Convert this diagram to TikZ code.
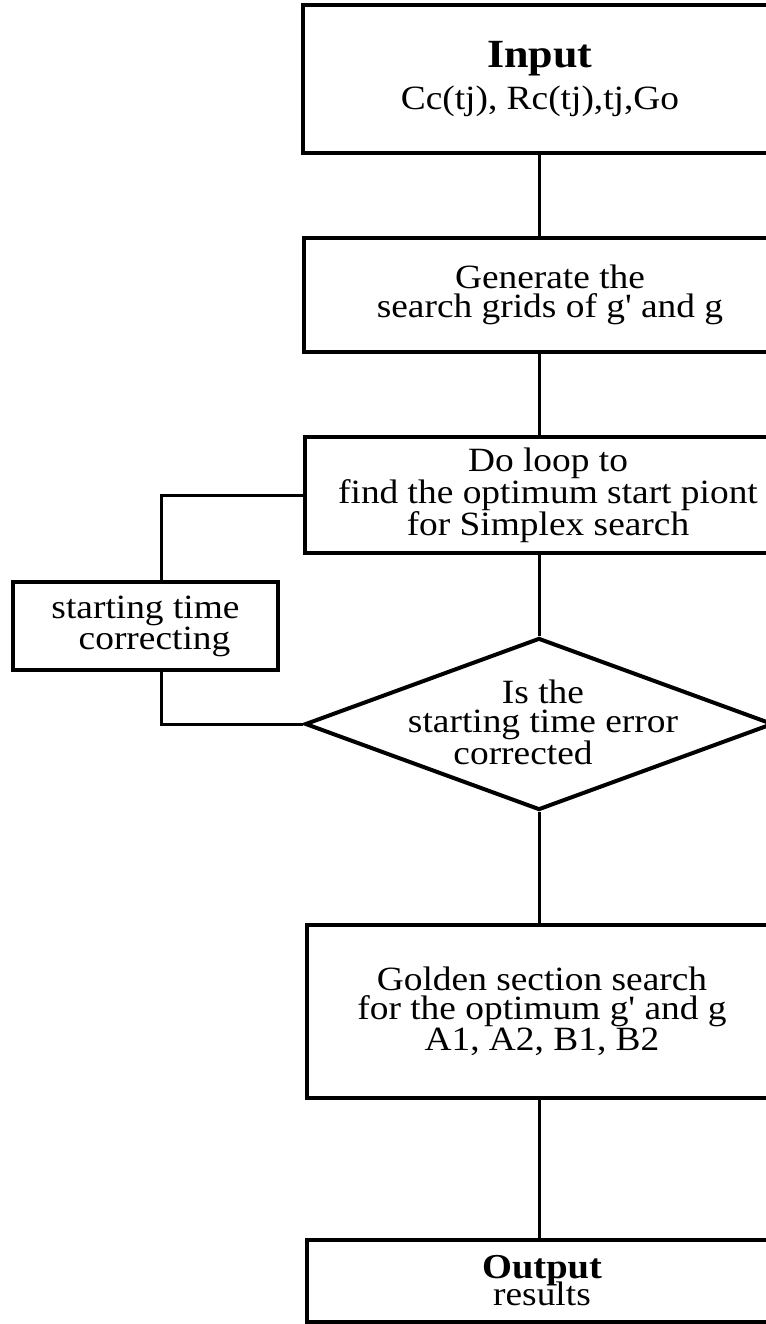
\documentclass[tikz,border=0pt]{standalone}
\usepackage{fontspec}
\setmainfont{Liberation Serif}[FakeStretch = 1.1, Ligatures = TeXOff]
\usetikzlibrary{shapes.geometric}

\begin{document}
\begin{tikzpicture}[x = 1pt, y = -1pt,
    stepbox/.style = {draw, line width = 3.5pt, rectangle, align = center, inner sep = 0pt, font = \fontsize{34}{29}\selectfont},
    decision/.style = {draw, line width = 4pt, diamond, inner sep = 0pt},
    link/.style = {line width = 3pt}]
    \useasboundingbox (0, 0) rectangle (765, 1324);

    % Nodes
    \node [stepbox, minimum width = 474pt, minimum height = 148pt] (input) at (540, 79)
        {{\bfseries\fontsize{40}{40}\selectfont Input}\\[8pt] Cc(tj), Rc(tj),tj,Go};
    \node [stepbox, minimum width = 492pt, minimum height = 114pt] (generate) at (550, 295)
        {Generate the\\ search grids of g' and g};
    \node [stepbox, minimum width = 486pt, minimum height = 116pt] (doloop) at (548, 495)
        {Do loop to\\ find the optimum start piont\\ for Simplex search};
    \node [stepbox, minimum width = 265pt, minimum height = 88pt, font = \fontsize{34}{26}\selectfont] (correct) at (145.5, 626)
        {starting time\\ \hspace*{18pt}correcting};
    \node [decision, minimum width = 468pt, minimum height = 172pt] (decide) at (539, 724) {};
    \node [align = center, font = \fontsize{34}{29}\selectfont] (decidetext) at (543, 722)
        {Is the\\ starting time error\\ corrected\hspace*{40pt}};
    \node [stepbox, minimum width = 470pt, minimum height = 173pt] (golden) at (542, 1011.5)
        {Golden section search\\ for the optimum g' and g\\ A1, A2, B1, B2};
    \node [stepbox, minimum width = 470pt, minimum height = 82pt] (output) at (542, 1281)
        {{\bfseries\fontsize{35}{35}\selectfont Output}\\[-5pt] results};

    % Lines
    \coordinate (spine) at (539, 0);
    \draw [link] (input.south -| spine) -- (generate.north -| spine);
    \draw [link] (generate.south -| spine) -- (doloop.north -| spine);
    \draw [link] (doloop.south -| spine) -- (decide.north);
    \draw [link] (decide.south) -- (golden.north -| spine);
    \draw [link] (golden.south -| spine) -- (output.north -| spine);

    % Loop back
    \draw [link] (doloop.west) -| ([xshift = 16pt]correct.north);
    \draw [link] ([xshift = 16pt]correct.south) |- (decide.west);

\end{tikzpicture}
\end{document}
